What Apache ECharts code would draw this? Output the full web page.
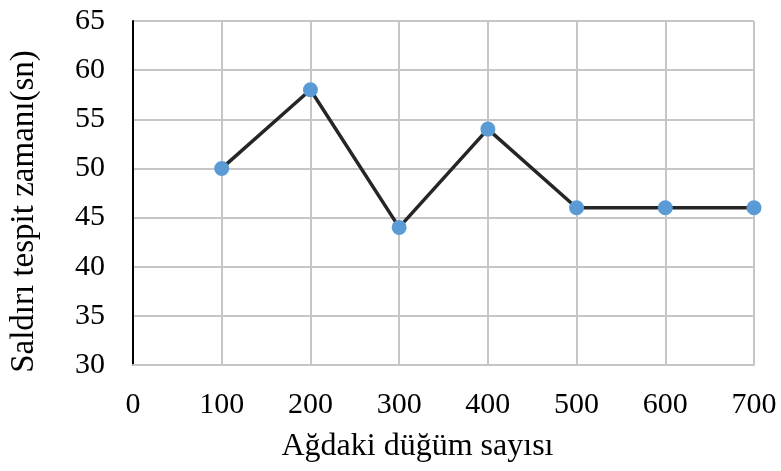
<!DOCTYPE html>
<html>
<head>
<meta charset="utf-8">
<script src="https://cdn.jsdelivr.net/npm/echarts@6/dist/echarts.min.js"></script>
<style>
  html, body { margin: 0; padding: 0; background: #ffffff; }
  #chart { width: 781px; height: 471px; }
</style>
</head>
<body>
<div id="chart"></div>
<script>
// Node counts and the measured attack detection time (seconds)
const nodeCounts = [100, 200, 300, 400, 500, 600, 700];
const detectionTimes = [50, 58, 44, 54, 46, 46, 46];

const xAxisTitle = 'Ağdaki düğüm sayısı';
const yAxisTitle = 'Saldırı tespit zamanı(sn)';

const serifFont = '"Liberation Serif", "Times New Roman", serif';
const gridGray = '#c6c6c6';

const chart = echarts.init(document.getElementById('chart'), null, { renderer: 'canvas' });

chart.setOption({
  animation: false,
  backgroundColor: '#ffffff',
  grid: { left: 133, right: 27, top: 21, bottom: 106, containLabel: false },
  xAxis: {
    type: 'value',
    min: 0,
    max: 700,
    interval: 100,
    name: xAxisTitle,
    nameLocation: 'middle',
    nameGap: 66,
    nameTextStyle: { fontFamily: serifFont, fontSize: 32, color: '#000', padding: [0, 52, 0, 0] },
    axisLine: { show: true, lineStyle: { color: gridGray, width: 2 } },
    axisTick: { show: false },
    axisLabel: { fontFamily: serifFont, fontSize: 30, color: '#000', margin: 25 },
    splitLine: { show: true, lineStyle: { color: gridGray, width: 2 } }
  },
  yAxis: {
    type: 'value',
    min: 30,
    max: 65,
    interval: 5,
    name: yAxisTitle,
    nameLocation: 'middle',
    nameGap: 92,
    nameRotate: 90,
    nameTextStyle: { fontFamily: serifFont, fontSize: 33, color: '#000', padding: [0, 37, 0, 0] },
    axisLine: { show: true, lineStyle: { color: '#000', width: 2 } },
    axisTick: { show: false },
    axisLabel: { fontFamily: serifFont, fontSize: 30, color: '#000', margin: 28 },
    splitLine: { show: true, lineStyle: { color: gridGray, width: 2 } }
  },
  series: [{
    type: 'line',
    data: nodeCounts.map((n, i) => [n, detectionTimes[i]]),
    lineStyle: { color: '#262626', width: 3.5 },
    symbol: 'circle',
    symbolSize: 15,
    itemStyle: { color: '#5b9bd5', borderWidth: 0 },
    z: 3
  }]
});
</script>
</body>
</html>
